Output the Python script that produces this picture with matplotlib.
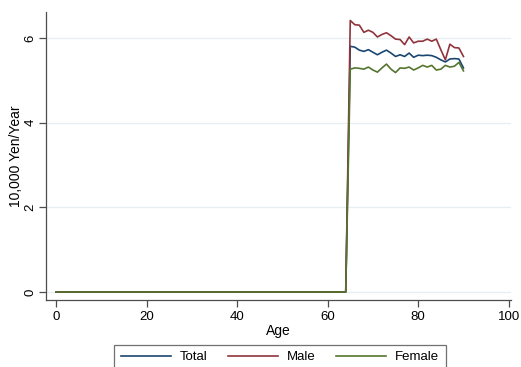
import numpy as np
import matplotlib
matplotlib.use("Agg")
import matplotlib.pyplot as plt

plt.rcParams["font.family"] = ["Liberation Sans", "DejaVu Sans"]

# ── Data ─────────────────────────────────────────────────────────
ages = list(range(0, 91))
zero_ages = 65  # ages 0..64 are zero
total_65plus = [5.80, 5.78, 5.71, 5.68, 5.72, 5.66, 5.60, 5.66, 5.71, 5.64,
                5.56, 5.60, 5.56, 5.64, 5.54, 5.59, 5.58, 5.59, 5.58, 5.54,
                5.48, 5.43, 5.50, 5.51, 5.50, 5.29]
male_65plus = [6.41, 6.31, 6.30, 6.13, 6.18, 6.13, 6.02, 6.08, 6.12, 6.05,
               5.97, 5.96, 5.84, 6.02, 5.88, 5.92, 5.92, 5.97, 5.92, 5.97,
               5.72, 5.48, 5.85, 5.77, 5.76, 5.56]
female_65plus = [5.26, 5.29, 5.28, 5.26, 5.31, 5.24, 5.19, 5.29, 5.38, 5.26,
                 5.18, 5.29, 5.28, 5.31, 5.24, 5.29, 5.35, 5.31, 5.35, 5.24,
                 5.26, 5.35, 5.31, 5.33, 5.42, 5.22]

total = [0.0] * zero_ages + total_65plus
male = [0.0] * zero_ages + male_65plus
female = [0.0] * zero_ages + female_65plus

C_TOTAL = "#1a476f"
C_MALE = "#90353b"
C_FEMALE = "#55752f"
AXIS = "#4d4d4d"

fig = plt.figure(figsize=(5.21, 3.67), dpi=100)
fig.patch.set_facecolor("white")
ax = fig.add_axes([46 / 521, 1 - 300 / 367, (511 - 46) / 521, (300 - 12) / 367])

ax.plot(ages, total, color=C_TOTAL, lw=1.2, label="Total")
ax.plot(ages, male, color=C_MALE, lw=1.2, label="Male")
ax.plot(ages, female, color=C_FEMALE, lw=1.2, label="Female")

ax.set_xlim(-2.2, 100.5)
ax.set_ylim(-0.19, 6.61)
ax.set_xticks([0, 20, 40, 60, 80, 100])
ax.set_yticks([0, 2, 4, 6])
ax.yaxis.grid(True, color="#e6eff0", lw=0.9)
ax.set_axisbelow(True)

for s in ["top", "right"]:
    ax.spines[s].set_visible(False)
for s in ["left", "bottom"]:
    ax.spines[s].set_color(AXIS)
    ax.spines[s].set_linewidth(0.9)

ax.tick_params(axis="both", direction="out", length=5, width=0.9,
               color=AXIS, labelsize=9.5, pad=3)
ax.tick_params(axis="y", pad=2)
plt.setp(ax.get_yticklabels(), rotation=90, va="center")

ax.set_xlabel("Age", fontsize=10, labelpad=1)
ax.set_ylabel("10,000 Yen/Year", fontsize=10, labelpad=1)

leg = fig.legend(loc="upper center", bbox_to_anchor=(280 / 521, 1 - 338 / 367),
                 ncol=3, fontsize=9.5, frameon=True, fancybox=False,
                 handlelength=3.8, columnspacing=1.5, handletextpad=0.7,
                 borderpad=0.5, edgecolor=AXIS)
leg.get_frame().set_linewidth(0.9)

fig.savefig("out.png", dpi=100, facecolor="white")
